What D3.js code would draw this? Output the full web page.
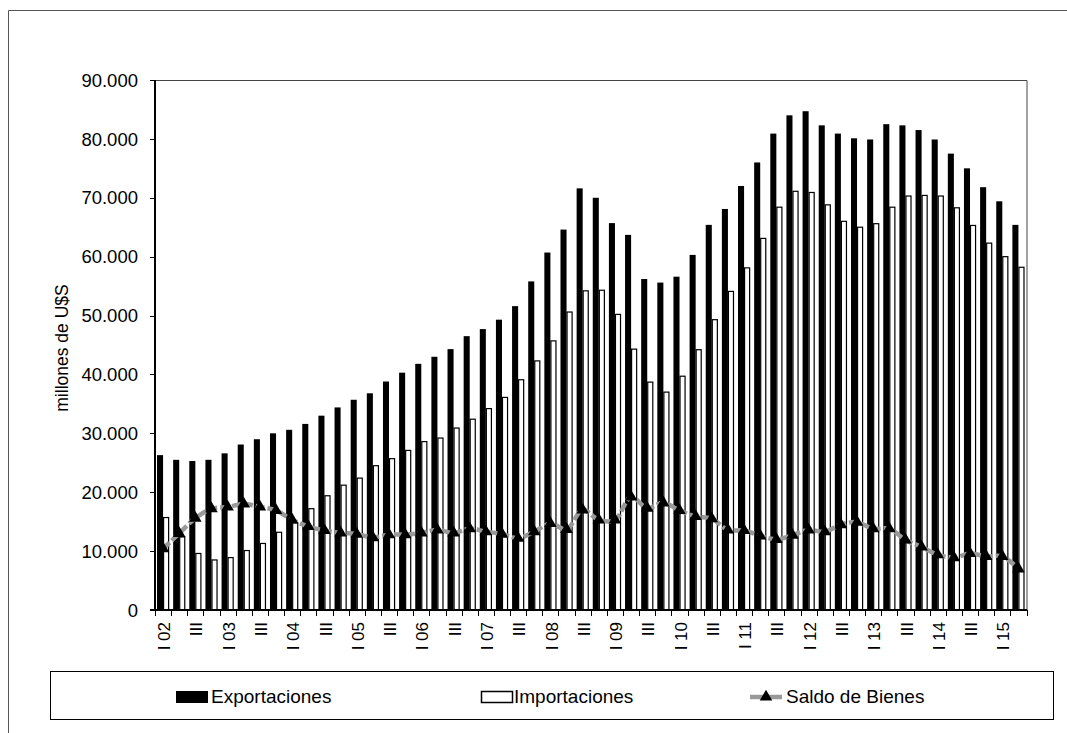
<!DOCTYPE html>
<html>
<head>
<meta charset="utf-8">
<script src="https://cdn.jsdelivr.net/npm/d3@7"></script>
<style>
  html, body { margin: 0; padding: 0; background: #fff; }
  svg { display: block; font-family: "Liberation Sans", Arial, sans-serif; }
</style>
</head>
<body>
<svg id="chart" width="1067" height="733"></svg>
<script>
// ---- Data (millones de U$S, trimestral) ----
const categories = [
  "I 02","II 02","III 02","IV 02","I 03","II 03","III 03","IV 03",
  "I 04","II 04","III 04","IV 04","I 05","II 05","III 05","IV 05",
  "I 06","II 06","III 06","IV 06","I 07","II 07","III 07","IV 07",
  "I 08","II 08","III 08","IV 08","I 09","II 09","III 09","IV 09",
  "I 10","II 10","III 10","IV 10","I 11","II 11","III 11","IV 11",
  "I 12","II 12","III 12","IV 12","I 13","II 13","III 13","IV 13",
  "I 14","II 14","III 14","IV 14","I 15","II 15"
];
const tickLabels = [
  "I 02","","III","","I 03","","III","",
  "I 04","","III","","I 05","","III","",
  "I 06","","III","","I 07","","III","",
  "I 08","","III","","I 09","","III","",
  "I 10","","III","","I 11","","III","",
  "I 12","","III","","I 13","","III","",
  "I 14","","III","","I 15",""
];
const exportaciones = [
  26300,25500,25300,25500,26600,28100,29000,30000,30600,31600,33000,34400,35700,36800,
  38800,40300,41800,43000,44300,46500,47700,49300,51600,55800,60700,64600,71600,
  70000,65700,63700,56200,55600,56600,60300,65400,68100,72000,76000,80900,84000,84700,
  82300,80900,80100,79900,82500,82300,81500,79900,77500,75000,71800,69400,65400
];
const importaciones = [
  15700,12400,9600,8500,8900,10100,11300,13200,14800,17200,19400,21200,22400,24500,
  25700,27100,28600,29200,30900,32400,34200,36100,39100,42300,45700,50600,54200,
  54300,50200,44300,38700,37000,39700,44200,49300,54100,58100,63100,68400,71100,70900,
  68800,66000,65000,65600,68400,70300,70400,70300,68300,65300,62300,60000,58200
];
const saldo = [
  10400,13000,15600,17200,17500,18000,17500,16900,15300,14200,13500,13100,12900,12300,
  12800,12800,13100,13600,13100,13800,13300,12900,12200,13300,14700,13700,17000,
  15300,15300,19200,17300,18200,16900,15900,15500,13600,13500,12600,12000,12700,13600,
  13300,14500,14900,13800,13800,11900,10700,9400,8900,9600,9100,9100,7000
];
const yTicks = [0,10000,20000,30000,40000,50000,60000,70000,80000,90000];
const seriesNames = ["Exportaciones","Importaciones","Saldo de Bienes"];

// ---- Layout ----
const svg = d3.select("#chart");
const plot = { left: 155, right: 1026.5, top: 80, bottom: 610 };

const x = d3.scaleBand()
  .domain(categories)
  .range([plot.left, plot.right])
  .paddingInner(0.25)
  .paddingOuter(0.125);
const step = x.step();
const bw = x.bandwidth();
const xSub = d3.scaleBand().domain(["exp","imp"]).range([0, bw]);

const y = d3.scaleLinear().domain([0, 90000]).range([plot.bottom, plot.top]);

const locale = d3.formatLocale({ decimal: ",", thousands: ".", grouping: [3], currency: ["$",""] });
const fmt = locale.format(",d");

// Outer frame (top + left only visible)
svg.append("path")
  .attr("d", `M8.5,733 V10.5 H1067`)
  .attr("fill", "none").attr("stroke", "#555").attr("stroke-width", 1);

// Plot area border (top & right)
svg.append("path")
  .attr("d", `M${plot.left},${plot.top + 0.5} H${plot.right + 0.5} V${plot.bottom}`)
  .attr("fill", "none").attr("stroke", "#444").attr("stroke-width", 1);

// Bars
const g = svg.append("g");
g.selectAll("rect.exp").data(exportaciones).join("rect")
  .attr("class", "exp")
  .attr("x", (d, i) => x(categories[i]) + xSub("exp"))
  .attr("width", xSub.bandwidth())
  .attr("y", d => y(d))
  .attr("height", d => y(0) - y(d))
  .attr("fill", "#000");

g.selectAll("rect.imp").data(importaciones).join("rect")
  .attr("class", "imp")
  .attr("x", (d, i) => x(categories[i]) + xSub("imp") + 0.5)
  .attr("width", xSub.bandwidth() - 1)
  .attr("y", d => y(d))
  .attr("height", d => y(0) - y(d))
  .attr("fill", "#fff")
  .attr("stroke", "#000")
  .attr("stroke-width", 1.2);

// Saldo line
const line = d3.line()
  .x((d, i) => x(categories[i]) + bw / 2)
  .y(d => y(d))
  .curve(d3.curveCatmullRom.alpha(0.5));
g.append("path")
  .datum(saldo)
  .attr("d", line)
  .attr("fill", "none")
  .attr("stroke", "#999")
  .attr("stroke-width", 4.5)
  .attr("stroke-dasharray", "9,3");

const tri = d3.symbol().type(d3.symbolTriangle).size(68);
g.selectAll("path.mk").data(saldo).join("path")
  .attr("class", "mk")
  .attr("d", tri)
  .attr("transform", (d, i) => `translate(${x(categories[i]) + bw / 2},${y(d)})`)
  .attr("fill", "#000");

// Y axis
const yAxis = svg.append("g");
yAxis.append("line")
  .attr("x1", plot.left).attr("x2", plot.left)
  .attr("y1", plot.top).attr("y2", plot.bottom)
  .attr("stroke", "#000").attr("stroke-width", 2);
yAxis.selectAll("line.tk").data(yTicks).join("line")
  .attr("class", "tk")
  .attr("x1", plot.left - 5).attr("x2", plot.left)
  .attr("y1", d => Math.round(y(d)) + 0.5).attr("y2", d => Math.round(y(d)) + 0.5)
  .attr("stroke", "#000").attr("stroke-width", 1);
yAxis.selectAll("text").data(yTicks).join("text")
  .attr("x", 138)
  .attr("y", d => y(d))
  .attr("dy", "0.36em")
  .attr("text-anchor", "end")
  .attr("font-size", 18.5)
  .attr("fill", "#000")
  .text(d => fmt(d));

// Y title
svg.append("text")
  .attr("transform", `translate(68,348) rotate(-90)`)
  .attr("text-anchor", "middle")
  .attr("font-size", 17.5)
  .attr("fill", "#000")
  .text("millones de U$S");

// X axis
const xAxis = svg.append("g");
xAxis.append("line")
  .attr("x1", plot.left - 5).attr("x2", plot.right + 0.5)
  .attr("y1", plot.bottom).attr("y2", plot.bottom)
  .attr("stroke", "#000").attr("stroke-width", 2);
const boundaries = categories.map((c, i) => plot.left + i * step).concat([plot.right]);
xAxis.selectAll("line.tk").data(boundaries).join("line")
  .attr("class", "tk")
  .attr("x1", d => Math.round(d) + 0.5).attr("x2", d => Math.round(d) + 0.5)
  .attr("y1", plot.bottom).attr("y2", plot.bottom + 6)
  .attr("stroke", "#000").attr("stroke-width", 1);
xAxis.selectAll("text").data(tickLabels).join("text")
  .attr("transform", (d, i) => `translate(${plot.left + (i + 0.5) * step + 1},622) rotate(-90)`)
  .attr("text-anchor", "end")
  .attr("dy", "0.36em")
  .attr("font-size", 17)
  .attr("fill", "#000")
  .text(d => d);

// Legend
const lg = svg.append("g");
lg.append("rect")
  .attr("x", 50.5).attr("y", 671.5).attr("width", 1003).attr("height", 48)
  .attr("fill", "#fff").attr("stroke", "#000").attr("stroke-width", 1);
lg.append("rect")
  .attr("x", 176).attr("y", 691).attr("width", 32).attr("height", 12)
  .attr("fill", "#000");
lg.append("text").attr("x", 211).attr("y", 703).attr("font-size", 19).text(seriesNames[0]);
lg.append("rect")
  .attr("x", 481.5).attr("y", 691.5).attr("width", 31).attr("height", 11)
  .attr("fill", "#fff").attr("stroke", "#000").attr("stroke-width", 1.5);
lg.append("text").attr("x", 514).attr("y", 703).attr("font-size", 19).text(seriesNames[1]);
lg.append("line")
  .attr("x1", 750).attr("x2", 782).attr("y1", 697).attr("y2", 697)
  .attr("stroke", "#999").attr("stroke-width", 4.5);
lg.append("path")
  .attr("d", d3.symbol().type(d3.symbolTriangle).size(68))
  .attr("transform", "translate(766,697)")
  .attr("fill", "#000");
lg.append("text").attr("x", 786).attr("y", 703).attr("font-size", 19).text(seriesNames[2]);
</script>
</body>
</html>
